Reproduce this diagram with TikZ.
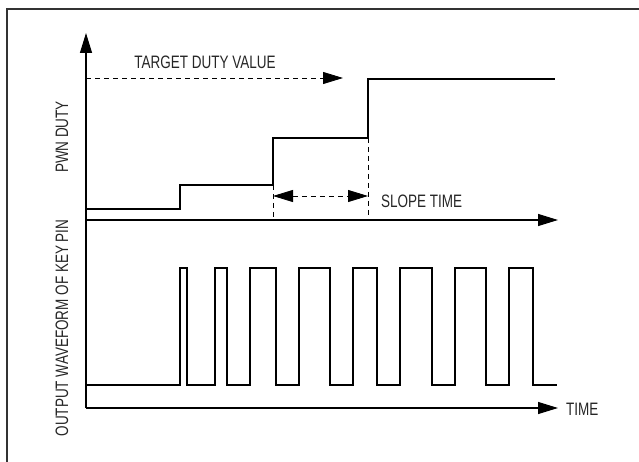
\documentclass[tikz,border=0pt]{standalone}
\usepackage{fontspec}
\newfontfamily\lblfont[FakeStretch=0.75]{Liberation Sans}
\usetikzlibrary{arrows.meta, positioning}

\begin{document}
\begin{tikzpicture}[x=1pt, y=-1pt,
    axis/.style={-{Triangle[length=20pt, width=12pt]}, line width=1.2pt},
    trace/.style={line width=1.1pt, line join=miter},
    guide/.style={line width=0.9pt, dash pattern=on 5pt off 4pt},
    tip/.style={Triangle[length=20pt, width=12pt]},
    txt/.style={font=\lblfont\fontsize{18}{18}\selectfont, text=black!85, inner sep=0pt}
]
\useasboundingbox (0,0) rectangle (639,462);

% Frame
\draw[line width=2pt, black!80] (7,462) |- (639,9);

% Axes
\coordinate (origin) at (86,408);
\coordinate (ytop) at (86,33);
\coordinate (xend) at (558,408);
\coordinate (mid) at (86,220);
\coordinate (midend) at (558,220);

\draw[axis] (origin) -- (ytop);
\draw[axis] (mid) -- (midend);
\draw[axis] (origin) -- (xend);

% PWM duty steps
\draw[trace] (86,209) -| (180,185) -| (273,138) -| (368,79) -- (555,79);

% Target value
\coordinate (t0) at (86,78);
\coordinate (t1) at (343,78);
\draw[guide, -{Triangle[length=20pt, width=12pt]}] (t0) -- (t1);
\node[txt] (target) at (205,62.5) {TARGET DUTY VALUE};

% Slope time
\coordinate (s1) at (273,196);
\coordinate (s2) at (368,196);
\draw[guide] (273,185) -- (273,220);
\draw[guide] (368,138) -- (368,220);
\draw[guide, {Triangle[length=20pt, width=12pt]}-{Triangle[length=20pt, width=12pt]}] (s1) -- (s2);
\node[txt, anchor=west] (slope) at (381,201) {SLOPE TIME};

% Key pin output
\draw[trace] (86,385) -| (180,268) -| (187,385) -| (215,268) -| (227,385)
    -| (250,268) -| (276,385) -| (299,268) -| (330,385) -| (353,268)
    -| (377,385) -| (400,268) -| (432,385) -| (455,268) -| (486,385)
    -| (509,268) -| (533,385) -- (557,385);

% Axis labels
\node[txt, anchor=west] (time) at (566,409) {TIME};
\node[txt, rotate=90] (duty) at (62,137) {PWN DUTY};
\node[txt, rotate=90] (output) at (62,328) {OUTPUT WAVEFORM OF KEY PIN};

\end{tikzpicture}
\end{document}
